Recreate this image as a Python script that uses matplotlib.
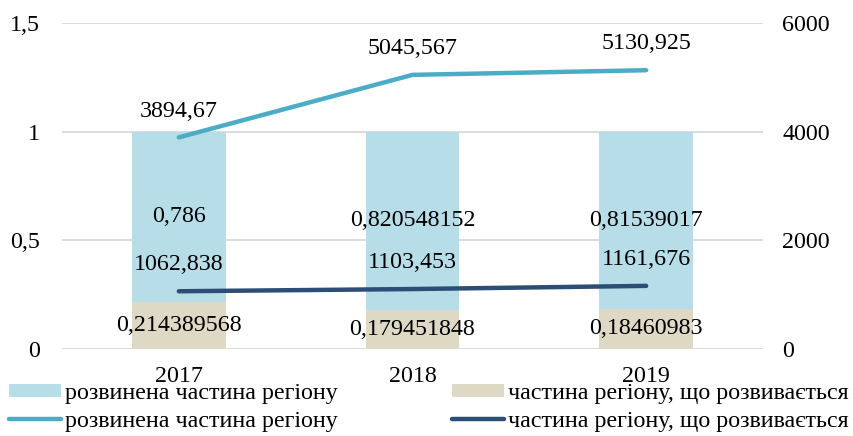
import matplotlib

matplotlib.use("Agg")
import matplotlib.pyplot as plt
from matplotlib.ticker import FuncFormatter
import numpy as np

years = ["2017", "2018", "2019"]
developed_share = [0.786, 0.820548152, 0.81539017]
developing_share = [0.214389568, 0.179451848, 0.18460983]
developed_line = [3894.67, 5045.567, 5130.925]
developing_line = [1062.838, 1103.453, 1161.676]

share_labels_dev = ["0,786", "0,820548152", "0,81539017"]
share_labels_devg = ["0,214389568", "0,179451848", "0,18460983"]
line_labels_dev = ["3894,67", "5045,567", "5130,925"]
line_labels_devg = ["1062,838", "1103,453", "1161,676"]

name_dev = "розвинена частина регіону"
name_devg = "частина регіону, що розвивається"

plt.rcParams["font.family"] = "serif"
plt.rcParams["font.serif"] = ["Liberation Serif", "Times New Roman", "DejaVu Serif"]
FS = 17.3


def comma(v, _pos=None):
    s = f"{v:g}"
    return s.replace(".", ",")


fig = plt.figure(figsize=(8.54, 4.36), dpi=100)
ax = fig.add_axes([62 / 854, 1 - 349 / 436, 701 / 854, 326 / 436])
x = np.arange(len(years))

b1 = ax.bar(x, developing_share, width=0.4, color="#DDD9C4", zorder=2)
b2 = ax.bar(x, developed_share, width=0.4, bottom=developing_share,
            color="#B7DEE8", zorder=2)
for i in range(len(years)):
    ax.text(x[i], developing_share[i] / 2, share_labels_devg[i],
            ha="center", va="center", fontsize=FS, zorder=5)
    ax.text(x[i], developing_share[i] + developed_share[i] / 2,
            share_labels_dev[i], ha="center", va="center", fontsize=FS, zorder=5)

ax.set_xlim(-0.5, 2.5)
ax.set_ylim(0, 1.5)
ax.set_yticks([0, 0.5, 1, 1.5])
ax.yaxis.set_major_formatter(FuncFormatter(comma))
ax.set_xticks(x)
ax.set_xticklabels(years)
ax.tick_params(axis="both", length=0, labelsize=FS)
ax.tick_params(axis="y", pad=16)
ax.tick_params(axis="x", pad=12)
ax.grid(axis="y", color="#D9D9D9", linewidth=1.3, zorder=0)
for s in ax.spines.values():
    s.set_visible(False)

ax2 = ax.twinx()
l1, = ax2.plot(x, developed_line, color="#4BACC6", linewidth=3.2,
               solid_capstyle="round", zorder=3)
l2, = ax2.plot(x, developing_line, color="#2C4D75", linewidth=3.2,
               solid_capstyle="round", zorder=3)
for i in range(len(years)):
    ax2.annotate(line_labels_dev[i], (x[i], developed_line[i]),
                 xytext=(0, 19), textcoords="offset points",
                 ha="center", va="center", fontsize=FS)
    ax2.annotate(line_labels_devg[i], (x[i], developing_line[i]),
                 xytext=(0, 19), textcoords="offset points",
                 ha="center", va="center", fontsize=FS)
ax2.set_ylim(0, 6000)
ax2.set_yticks([0, 2000, 4000, 6000])
ax2.tick_params(axis="y", length=0, labelsize=FS, pad=14)
for s in ax2.spines.values():
    s.set_visible(False)

leg_kw = dict(loc="lower left", frameon=False, fontsize=FS, borderpad=0,
              handlelength=2.15, handleheight=0.45, handletextpad=0.17,
              labelspacing=0.28, borderaxespad=0)
fig.legend([b2, l1], [name_dev, name_dev],
           bbox_to_anchor=(9 / 854, 4 / 436), **leg_kw)
fig.legend([b1, l2], [name_devg, name_devg],
           bbox_to_anchor=(452 / 854, 4 / 436), **leg_kw)

fig.savefig("out.png", dpi=100)
